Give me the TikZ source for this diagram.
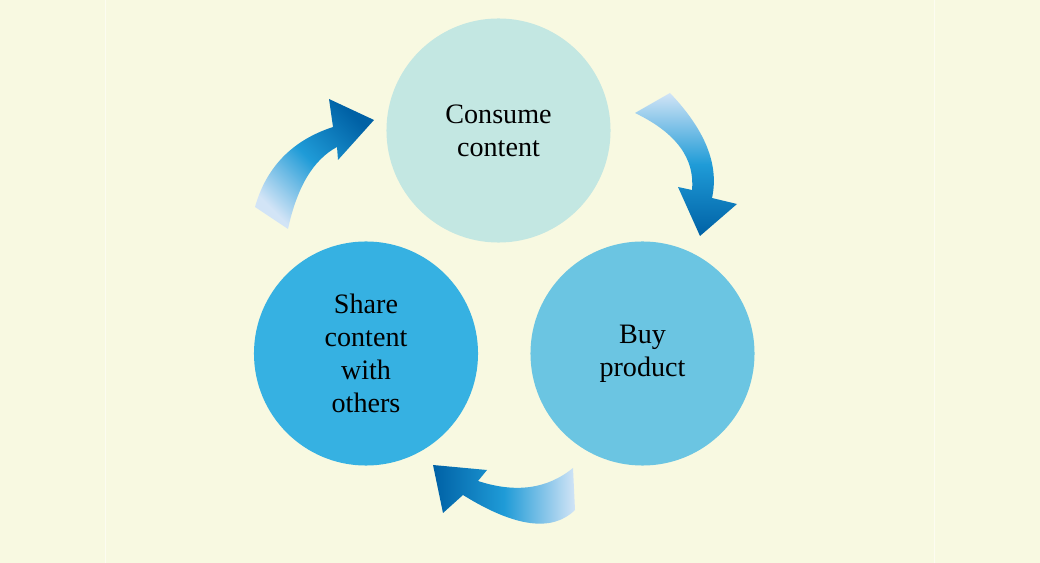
\documentclass[tikz,border=0pt]{standalone}
\usepackage{fontspec}
\setmainfont{Liberation Serif}
\usetikzlibrary{shapes.geometric, positioning, calc}
\definecolor{paper}{HTML}{F8F9E1}
\definecolor{consumefill}{HTML}{C3E7E2}
\definecolor{buyfill}{HTML}{6BC5E2}
\definecolor{sharefill}{HTML}{36B1E2}
\definecolor{arrowlight}{HTML}{D2E4F6}
\definecolor{arrowmid}{HTML}{1F9BD7}
\definecolor{arrowdark}{HTML}{0061A5}

\begin{document}
\begin{tikzpicture}[x=0.025cm, y=-0.025cm,
        stage/.style={circle, draw=none, inner sep=0pt, minimum size=5.6cm, align=center, font=\fontsize{20}{23.4}\selectfont}]
        \fill[paper] (0, 0) rectangle (1040, 563);
        \useasboundingbox (0, 0) rectangle (1040, 563);
        \draw[white!55!paper, line width=0.6pt] (105.5, 0) -- (105.5, 563);
        \draw[white!55!paper, line width=0.6pt] (934, 0) -- (934, 563);

        \node[stage, fill=consumefill] (consume) at (498.5, 130.5) {Consume\\content};
        \node[stage, fill=buyfill] (buy) at (642.5, 353.5) {Buy\\product};
        \node[stage, fill=sharefill] (share) at (366, 353.5) {Share\\content\\with\\others};

        % share -> consume
        \shade[left color=arrowdark, right color=arrowlight, middle color=arrowmid, shading angle=-45]
            (255, 207) .. controls (266.3, 167) and (292.3, 140.3) .. (333, 127) -- (329, 99) -- (374, 120) -- (338, 160) -- (337, 147)
            .. controls (313.3, 159.7) and (297, 187) .. (288, 229) -- cycle;
        % consume -> buy
        \shade[top color=arrowlight, bottom color=arrowdark, middle color=arrowmid]
            (635, 113) -- (670, 93) .. controls (705.3, 130) and (719.3, 165) .. (712, 198) -- (737, 204) -- (700, 236) -- (678, 187) -- (692, 190)
            .. controls (695, 158.3) and (676, 132.7) .. (635, 113) -- cycle;
        % buy -> share
        \shade[left color=arrowdark, right color=arrowlight, middle color=arrowmid]
            (573, 468) .. controls (547.3, 489) and (515.7, 493.3) .. (478, 481) -- (487, 470) -- (433, 465) -- (443, 513) -- (463, 495)
            .. controls (515, 527.3) and (552.3, 532.3) .. (575, 510) -- cycle;

      \end{tikzpicture}
\end{document}
